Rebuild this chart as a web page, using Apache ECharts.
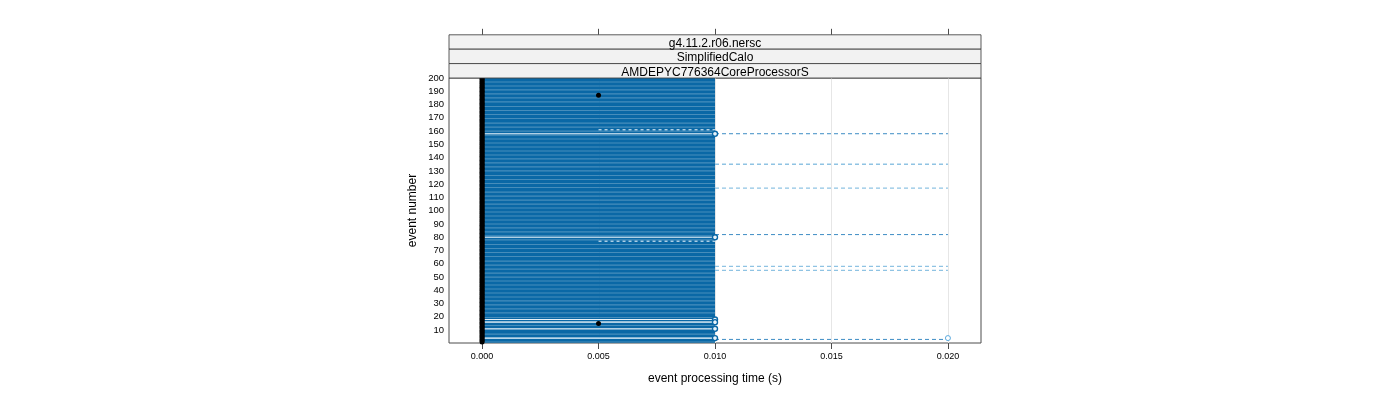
<!DOCTYPE html>
<html>
<head>
<meta charset="utf-8">
<script src="https://cdn.jsdelivr.net/npm/echarts@6/dist/echarts.min.js"></script>
<style>html,body{margin:0;padding:0;background:#fff}#c{width:1400px;height:400px}</style>
</head>
<body>
<div id="c"></div>
<script>
// ---- data ----
const stripLabels = ["g4.11.2.r06.nersc", "SimplifiedCalo", "AMDEPYC776364CoreProcessorS"];
const xTicks = [0, 0.005, 0.010, 0.015, 0.020];
const xTickLabels = ["0.000", "0.005", "0.010", "0.015", "0.020"];
const yTicks = [10, 20, 30, 40, 50, 60, 70, 80, 90, 100, 110, 120, 130, 140, 150, 160, 170, 180, 190, 200];

// per-event minimum time (s), events 1..200
const minTime = [
 0,0,0,0,0,0,0,0,0,0,0,0,0,0,0,0,0,0,0,0,
 0,0,0,0,0,0,0,0,0,0,0,0,0,0,0,0,0,0,0,0,
 0,0,0,0,0,0,0,0,0,0,0,0,0,0,0,0,0,0,0,0,
 0,0,0,0,0,0,0,0,0,0,0,0,0,0,0,0,0,0,0,0,
 0,0,0,0,0,0,0,0,0,0,0,0,0,0,0,0,0,0,0,0,
 0,0,0,0,0,0,0,0,0,0,0,0,0,0,0,0,0,0,0,0,
 0,0,0,0,0,0,0,0,0,0,0,0,0,0,0,0,0,0,0,0,
 0,0,0,0,0,0,0,0,0,0,0,0,0,0,0,0,0,0,0,0,
 0,0,0,0,0,0,0,0,0,0,0,0,0,0,0,0,0,0,0,0,
 0,0,0,0,0,0,0,0,0,0,0,0,0,0,0,0,0,0,0,0
];
// per-event typical time (s), events 1..200
const mainTime = [
 0.01,0.01,0.01,0.01,0.01,0.01,0.01,0.01,0.01,0.01,0.01,0.01,0.01,0.01,0.01,0.01,0.01,0.01,0.01,0.01,
 0.01,0.01,0.01,0.01,0.01,0.01,0.01,0.01,0.01,0.01,0.01,0.01,0.01,0.01,0.01,0.01,0.01,0.01,0.01,0.01,
 0.01,0.01,0.01,0.01,0.01,0.01,0.01,0.01,0.01,0.01,0.01,0.01,0.01,0.01,0.01,0.01,0.01,0.01,0.01,0.01,
 0.01,0.01,0.01,0.01,0.01,0.01,0.01,0.01,0.01,0.01,0.01,0.01,0.01,0.01,0.01,0.01,0.01,0.01,0.01,0.01,
 0.01,0.01,0.01,0.01,0.01,0.01,0.01,0.01,0.01,0.01,0.01,0.01,0.01,0.01,0.01,0.01,0.01,0.01,0.01,0.01,
 0.01,0.01,0.01,0.01,0.01,0.01,0.01,0.01,0.01,0.01,0.01,0.01,0.01,0.01,0.01,0.01,0.01,0.01,0.01,0.01,
 0.01,0.01,0.01,0.01,0.01,0.01,0.01,0.01,0.01,0.01,0.01,0.01,0.01,0.01,0.01,0.01,0.01,0.01,0.01,0.01,
 0.01,0.01,0.01,0.01,0.01,0.01,0.01,0.01,0.01,0.01,0.01,0.01,0.01,0.01,0.01,0.01,0.01,0.01,0.01,0.01,
 0.01,0.01,0.01,0.01,0.01,0.01,0.01,0.01,0.01,0.01,0.01,0.01,0.01,0.01,0.01,0.01,0.01,0.01,0.01,0.01,
 0.01,0.01,0.01,0.01,0.01,0.01,0.01,0.01,0.01,0.01,0.01,0.01,0.01,0.01,0.01,0.01,0.01,0.01,0.01,0.01
];
// events drawn as light lines with open circle at 0.01 s
const ringEvents = [158, 80, 18, 16, 11, 4];
const ringTime = [0.01, 0.01, 0.01, 0.01, 0.01, 0.01];
// dashed segments 0.01 -> 0.02 (darker)
const dashDarkEvents = [158, 82, 3];
const dashDarkStart = [0.01, 0.01, 0.01];
const dashDarkEnd = [0.02, 0.02, 0.02];
// dashed segments 0.01 -> 0.02 (lighter)
const dashLightEvents = [135, 117, 58, 55];
const dashLightStart = [0.01, 0.01, 0.01, 0.01];
const dashLightEnd = [0.02, 0.02, 0.02, 0.02];
// dashed segments 0.005 -> 0.01 (pale, inside the block)
const dashPaleEvents = [161, 77];
const dashPaleStart = [0.005, 0.005];
const dashPaleEnd = [0.01, 0.01];
// black points at 0.005 s
const dotEvents = [187, 15];
const dotTime = [0.005, 0.005];
// open circle at 0.02 s
const farEvents = [4];
const farTime = [0.02];

// ---- build ----
const Y_MIN = 0.3, Y_MAX = 200;
const events = mainTime.map((_, i) => i + 1);
function segData(ev, s, e) { return ev.map((v, i) => [s[i], e[i], v]); }
function segSeries(data, color, width, dash, z) {
  return {
    type: 'custom', z: z, silent: true, clip: true,
    encode: { x: [0, 1], y: 2 },
    data: data,
    renderItem: function (params, api) {
      const p1 = api.coord([api.value(0), api.value(2)]);
      const p2 = api.coord([api.value(1), api.value(2)]);
      return { type: 'line', shape: { x1: p1[0], y1: p1[1], x2: p2[0], y2: p2[1] },
        style: { stroke: color, lineWidth: width, lineDash: dash } };
    }
  };
}

const chart = echarts.init(document.getElementById('c'));
const L = 449, R = 981, T = 78, B = 343;
const stripH = 14.4;
const font = '"Liberation Sans", Arial, sans-serif';
const graphics = [];
stripLabels.forEach((s, i) => {
  const y = T - (3 - i) * stripH;
  graphics.push({ type: 'rect', shape: { x: L, y: y, width: R - L, height: stripH },
    style: { fill: '#f2f2f2', stroke: '#333', lineWidth: 0.8 }, z: 10 });
  graphics.push({ type: 'text', x: (L + R) / 2, y: y + stripH / 2 + 1.5,
    style: { text: s, fill: '#000', font: '12px ' + font, align: 'center', verticalAlign: 'middle' }, z: 11 });
});

chart.setOption({
  animation: false,
  grid: { left: L, right: 1400 - R, top: T, bottom: 400 - B, show: true, borderColor: '#4d4d4d', borderWidth: 1 },
  xAxis: [{
    type: 'value', min: -0.00142, max: 0.02142, position: 'bottom',
    name: 'event processing time (s)', nameLocation: 'middle', nameGap: 30,
    nameTextStyle: { fontSize: 12, color: '#000', fontFamily: font },
    axisLine: { show: false },
    axisTick: { show: true, length: 6, inside: false, customValues: xTicks, lineStyle: { color: '#4d4d4d' } },
    axisLabel: { show: true, customValues: xTicks, formatter: v => xTickLabels[xTicks.findIndex(t => Math.abs(t - v) < 1e-9)] || '', fontSize: 9, color: '#000', fontFamily: font, margin: 9 },
    splitLine: { show: false }
  }, {
    type: 'value', min: -0.00142, max: 0.02142, position: 'top', offset: 3 * stripH,
    axisLine: { show: false },
    axisTick: { show: true, length: 6, customValues: xTicks, lineStyle: { color: '#4d4d4d' } },
    axisLabel: { show: false },
    splitLine: { show: false }
  }],
  yAxis: {
    type: 'value', min: Y_MIN, max: Y_MAX,
    name: 'event number', nameLocation: 'middle', nameGap: 30, nameRotate: 90,
    nameTextStyle: { fontSize: 12, color: '#000', fontFamily: font },
    axisLine: { show: false }, axisTick: { show: false },
    axisLabel: { customValues: yTicks, fontSize: 9.5, color: '#000', fontFamily: font, margin: 5 },
    splitLine: { show: false }
  },
  series: [
    {
      type: 'custom', z: 0, silent: true, clip: true,
      encode: { x: 0 },
      data: xTicks.map(v => [v]),
      renderItem: function (params, api) {
        const p1 = api.coord([api.value(0), Y_MIN]);
        const p2 = api.coord([api.value(0), Y_MAX]);
        return { type: 'line', shape: { x1: Math.round(p1[0]) + 0.5, y1: p1[1], x2: Math.round(p2[0]) + 0.5, y2: p2[1] },
          style: { stroke: '#e6e6e6', lineWidth: 1 } };
      }
    },
    segSeries(events.map((e, i) => [minTime[i], mainTime[i], e]), '#0a68a6', 1.5, null, 2),
    segSeries(segData(ringEvents, ringEvents.map((e) => minTime[e - 1]), ringTime), '#e8f3fa', 1.1, null, 3),
    segSeries(segData(dashPaleEvents, dashPaleStart, dashPaleEnd), '#cfe4f2', 1.2, [3, 3], 3),
    segSeries(segData(dashDarkEvents, dashDarkStart, dashDarkEnd), '#3d8cc4', 1, [4, 3], 3),
    segSeries(segData(dashLightEvents, dashLightStart, dashLightEnd), '#8fc3e3', 1.3, [4, 3], 3),
    {
      type: 'scatter', z: 4, silent: true, symbol: 'circle', symbolSize: 5,
      itemStyle: { color: '#000', opacity: 1 },
      data: events.map((e, i) => [minTime[i], e])
    },
    {
      type: 'scatter', z: 5, silent: true, symbol: 'circle', symbolSize: 5,
      itemStyle: { color: '#000', opacity: 1 },
      data: dotEvents.map((e, i) => [dotTime[i], e])
    },
    {
      type: 'scatter', z: 5, silent: true, symbol: 'circle', symbolSize: 5,
      itemStyle: { color: '#e8f3fa', borderColor: '#0a68a6', borderWidth: 1.4, opacity: 1 },
      data: ringEvents.map((e, i) => [ringTime[i], e])
    },
    {
      type: 'scatter', z: 5, silent: true, symbol: 'circle', symbolSize: 5,
      itemStyle: { color: '#fff', borderColor: '#5aa8dc', borderWidth: 1, opacity: 1 },
      data: farEvents.map((e, i) => [farTime[i], e])
    }
  ],
  graphic: graphics
});
</script>
</body>
</html>
